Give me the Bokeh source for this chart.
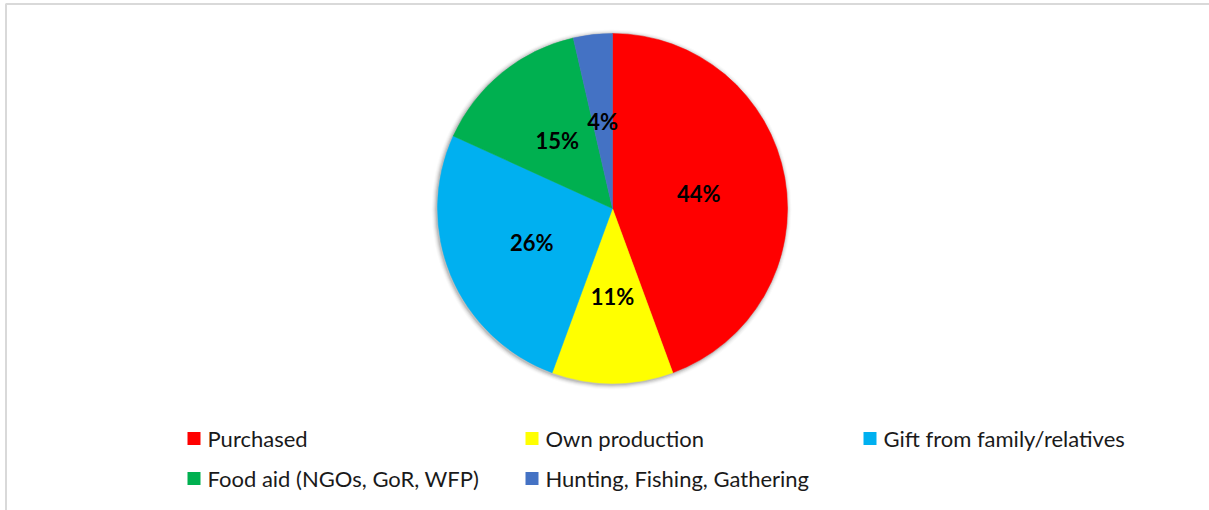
import math
from bokeh.plotting import figure
from bokeh.models import ColumnDataSource, Range1d
from bokeh.core.properties import value
from bokeh.embed import file_html
from bokeh.resources import INLINE

categories = ["Purchased", "Own production", "Gift from family/relatives",
              "Food aid (NGOs, GoR, WFP)", "Hunting, Fishing, Gathering"]
shares = [44.4, 11.2, 26.2, 14.6, 3.6]
colors = ["#FF0000", "#FFFF00", "#00B0F0", "#00B050", "#4472C4"]

W, H = 1209, 510
p = figure(width=W, height=H, output_backend="svg", toolbar_location=None,
           x_range=Range1d(0, W), y_range=Range1d(0, H), min_border=0)
p.axis.visible = False
p.grid.visible = False
p.outline_line_color = None
p.background_fill_color = "white"
p.border_fill_color = "white"

# chart frame border
p.quad(left=[5.5], right=[W + 20], top=[H - 3.5], bottom=[-20],
       fill_color=None, line_color="#d9d9d9", line_width=2)

cx, cy, R = 612, H - 208, 175

# soft shadow
for i, a in enumerate([0.10, 0.07, 0.05, 0.03, 0.02]):
    p.circle(x=[cx - 1], y=[cy - 1], radius=R + 1 + i, radius_units="screen",
             fill_color="black", fill_alpha=a, line_color=None)

total = sum(shares)
starts, ends, lx, ly, labels = [], [], [], [], []
acc = 0.0
for s in shares:
    a0 = acc / total * 2 * math.pi
    acc += s
    a1 = acc / total * 2 * math.pi
    starts.append(math.pi / 2 - a1)
    ends.append(math.pi / 2 - a0)
    mid = (a0 + a1) / 2
    lx.append(cx + 0.5 * R * math.sin(mid))
    ly.append(cy + 0.5 * R * math.cos(mid))
    labels.append(f"{round(s)}%")

src = ColumnDataSource(dict(start=starts, end=ends, color=colors,
                            lx=lx, ly=ly, label=labels))
p.wedge(x=cx, y=cy, radius=R, radius_units="screen", start_angle="start",
        end_angle="end", fill_color="color", line_color="color", line_width=0.5,
        source=src)
p.text(x="lx", y="ly", text="label", source=src, text_align="center",
       text_baseline="middle", text_font=value("Lato"), text_font_style="bold",
       text_font_size="22px", text_color="black")

# legend (manual, 3 columns)
col_x = [187, 525, 863]
row_y = [H - 438, H - 478]
sx, sy, tx, ty, tt, sc = [], [], [], [], [], []
for i, (cat, col) in enumerate(zip(categories, colors)):
    r, c = divmod(i, 3)
    sx.append(col_x[c] + 6.5)
    sy.append(row_y[r])
    tx.append(col_x[c] + 20)
    ty.append(row_y[r])
    tt.append(cat)
    sc.append(col)
p.rect(x=sx, y=sy, width=13, height=13, width_units="screen",
       height_units="screen", fill_color=sc, line_color=None)
p.text(x=tx, y=ty, text=tt, text_align="left", text_baseline="middle",
       text_font=value("Lato"), text_font_size="22px", text_color="#1a1a1a")

open("out.html", "w").write(file_html(p, INLINE))
